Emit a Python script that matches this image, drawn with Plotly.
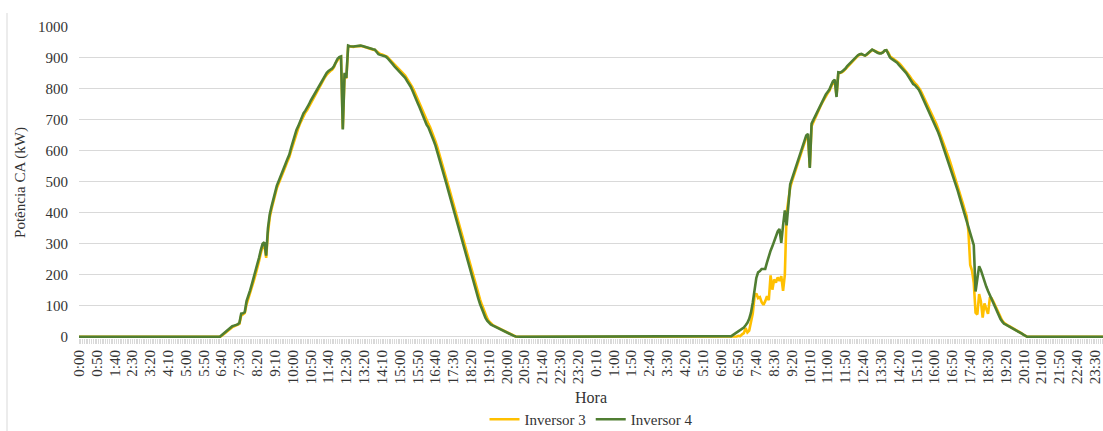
import plotly.graph_objects as go

# 5-minute samples over two days (categories)
hora = [f"{((j * 5) % 1440) // 60}:{((j * 5) % 1440) % 60:02d}" for j in range(576)]

# ---- Inversor 3 (yellow) ----
inv3_dia1 = [
    0, 3, 8, 12, 17, 22, 27, 31, 34, 36,
    38, 42, 68, 74, 77, 105, 122, 140, 160, 180,
    200, 220, 244, 270, 292, 298, 255, 335, 385, 412,
    438, 460, 480, 495, 508, 522, 538, 552, 567, 580,
    600, 620, 640, 660, 673, 688, 702, 715, 724, 732,
    743, 755, 765, 775, 788, 798, 808, 818, 828, 838,
    846, 853, 858, 862, 870, 884, 894, 900, 903, 672,
    848, 834, 938, 937, 936, 936, 937, 938, 939, 939,
    938, 936, 933, 931, 929, 928, 927, 926, 921, 915,
    913, 911, 909, 907, 904, 897, 891, 885, 879, 873,
    868, 862, 856, 850, 843, 834, 826, 817, 806, 794,
    780, 767, 754, 740, 725, 710, 698, 688, 676, 662,
    647, 631, 613, 594, 574, 554, 534, 514, 493, 472,
    451, 430, 409, 388, 367, 346, 324, 302, 281, 260,
    238, 217, 196, 176, 157, 139, 121, 104, 88, 72,
    60, 50, 43, 39, 35, 32, 29, 26, 23, 20,
    17, 14, 11, 8, 6, 3, 1, 0,
]
inv3_dia2 = [
    0, 0, 0, 0, 1, 3, 2, 8, 12, 28,
    14, 20, 50, 75, 130, 140, 125, 128, 112, 103,
    115, 131, 118, 198, 152, 185, 175, 192, 180, 196,
    148, 200, 400, 440, 482, 502, 520, 538, 556, 573,
    588, 605, 625, 643, 650, 548, 680, 694, 708, 719,
    732, 744, 756, 767, 777, 786, 794, 806, 820, 826,
    778, 850, 851, 854, 858, 864, 872, 878, 885, 891,
    897, 902, 907, 911, 912, 910, 908, 911, 917, 923,
    926, 924, 921, 918, 916, 916, 918, 923, 925, 918,
    906, 901, 897, 893, 889, 884, 878, 871, 865, 859,
    851, 842, 833, 824, 819, 813, 806, 797, 785, 773,
    760, 748, 736, 723, 711, 700, 687, 672, 657, 641,
    625, 610, 594, 577, 560, 542, 524, 506, 488, 468,
    448, 428, 408, 390, 340, 232, 214, 174, 78, 72,
    138, 114, 62, 108, 90, 74, 124, 124, 114, 102,
    88, 74, 62, 52, 45, 40, 37, 34, 31, 28,
    25, 22, 18, 14, 10, 6, 3, 0,
]

# ---- Inversor 4 (green) ----
inv4_dia1 = [
    0, 5, 10, 15, 20, 25, 30, 34, 36, 38,
    40, 45, 75, 76, 80, 115, 130, 150, 170, 190,
    210, 230, 255, 280, 300, 305, 262, 350, 395, 420,
    445, 468, 488, 502, 515, 530, 545, 560, 575, 588,
    610, 630, 650, 668, 680, 695, 710, 722, 730, 738,
    750, 762, 772, 782, 795, 805, 815, 826, 835, 845,
    852, 858, 862, 866, 873, 888, 897, 903, 905, 669,
    852, 836, 940, 938, 937, 937, 938, 939, 940, 940,
    939, 937, 934, 932, 930, 929, 928, 927, 918, 912,
    910, 909, 907, 905, 900, 892, 886, 880, 873, 867,
    862, 856, 850, 843, 836, 826, 818, 808, 796, 784,
    768, 755, 742, 728, 712, 697, 685, 676, 663, 649,
    633, 617, 598, 578, 558, 538, 518, 497, 476, 455,
    434, 413, 392, 371, 350, 329, 306, 285, 264, 242,
    221, 200, 180, 161, 142, 124, 106, 90, 76, 62,
    52, 45, 40, 37, 34, 31, 28, 25, 22, 19,
    16, 13, 10, 8, 5, 3, 1, 0,
]
inv4_dia2 = [
    0, 2, 6, 10, 13, 17, 21, 25, 30, 37,
    45, 58, 78, 110, 150, 190, 208, 212, 219, 218,
    219, 240, 262, 278, 292, 310, 325, 340, 348, 303,
    360, 408, 360, 440, 492, 510, 528, 545, 563, 580,
    595, 612, 632, 650, 655, 545, 688, 700, 715, 725,
    738, 750, 762, 772, 782, 790, 798, 812, 825, 830,
    774, 854, 853, 856, 860, 866, 874, 880, 887, 893,
    899, 904, 909, 912, 913, 910, 908, 912, 918, 924,
    927, 924, 920, 917, 915, 915, 918, 924, 925, 915,
    902, 897, 893, 888, 885, 878, 872, 865, 858, 852,
    843, 833, 824, 816, 812, 805, 799, 788, 775, 762,
    750, 737, 724, 712, 700, 690, 675, 660, 645, 628,
    612, 597, 580, 563, 545, 527, 509, 490, 472, 452,
    432, 413, 393, 370, 350, 330, 312, 296, 146, 190,
    228, 215, 195, 178, 162, 148, 135, 122, 110, 96,
    82, 68, 57, 49, 42, 39, 36, 33, 30, 27,
    24, 21, 17, 13, 10, 6, 3, 0,
]

# night periods (zero output): before day-1 sunrise, overnight, after day-2 sunset
noite_inicio = [0] * 79
noite_meio = [0] * 118
noite_fim = [0] * 43

inversor3 = noite_inicio + inv3_dia1 + noite_meio + inv3_dia2 + noite_fim
inversor4 = noite_inicio + inv4_dia1 + noite_meio + inv4_dia2 + noite_fim
assert len(inversor3) == len(hora) == len(inversor4), (len(inversor3), len(inversor4))

x_idx = list(range(len(hora)))
tick_idx = x_idx[::10]
tick_txt = hora[::10]

FONT = "Liberation Serif"
TXT = "#333333"
GRID = "#D9D9D9"

fig = go.Figure()
fig.add_trace(go.Scatter(x=x_idx, y=inversor3, mode="lines", name="Inversor 3",
                         line=dict(color="#FFC000", width=2.6)))
fig.add_trace(go.Scatter(x=x_idx, y=inversor4, mode="lines", name="Inversor 4",
                         line=dict(color="#507E32", width=2.6)))

fig.update_layout(
    width=1103, height=431,
    margin=dict(l=79, r=0, t=27, b=93, autoexpand=False),
    paper_bgcolor="white", plot_bgcolor="white",
    font=dict(family=FONT, size=15, color=TXT),
    showlegend=True,
    legend=dict(orientation="h", x=0.5, xanchor="center", y=-0.262, yanchor="middle",
                font=dict(family=FONT, size=15, color=TXT), itemwidth=30,
                tracegroupgap=0),
    xaxis=dict(
        range=[0, 574.5], automargin=False,
        tickmode="array", tickvals=tick_idx, ticktext=tick_txt,
        tickangle=-90, tickfont=dict(family=FONT, size=15, color=TXT),
        ticklabeloverflow="allow",
        ticks="outside", ticklen=5, tickcolor=GRID, tickwidth=1,
        minor=dict(tickmode="linear", tick0=0, dtick=1, ticks="outside",
                   ticklen=5, tickcolor=GRID, tickwidth=1, showgrid=False),
        showgrid=False, zeroline=False, showline=False,
        title=dict(text="Hora", font=dict(family=FONT, size=16, color=TXT), standoff=8),
    ),
    yaxis=dict(
        range=[-3.9, 1000], automargin=False, tickmode="linear", tick0=0, dtick=100,
        showgrid=True, gridcolor=GRID, gridwidth=1,
        zeroline=False, showline=False, ticks="",
        tickfont=dict(family=FONT, size=15, color=TXT),
        ticklabelstandoff=10,
        title=dict(text="Potência CA (kW)", font=dict(family=FONT, size=15, color=TXT), standoff=8),
    ),
    shapes=[dict(type="line", xref="paper", yref="paper",
                 x0=-72 / 1024, x1=-72 / 1024, y0=1.045, y1=-0.3,
                 line=dict(color=GRID, width=1))],
)

fig.write_html("out.html")
